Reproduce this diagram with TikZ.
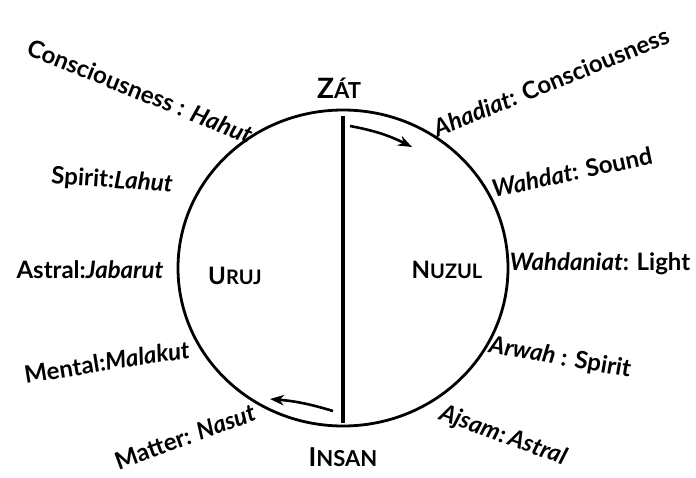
\documentclass[tikz,border=0pt]{standalone}
\usepackage{fontspec}
\setsansfont{Lato}
\usetikzlibrary{arrows.meta}

\begin{document}
\begin{tikzpicture}[x=0.5pt, y=-0.5pt, font=\sffamily\bfseries\fontsize{12}{14}\selectfont, line join=round]
    \useasboundingbox (0,0) rectangle (696,477);
    \coordinate (O) at (343, 268);    % centre of the circle
    \coordinate (T) at (343, 116);    % top of the axis, under Zat
    \coordinate (B) at (343, 423);    % bottom of the axis, above Insan
    \coordinate (P) at (350, 126);    % descent arrow, start
    \coordinate (Q) at (412, 147);    % descent arrow, tip
    \coordinate (R) at (333, 411);    % ascent arrow, start
    \coordinate (S) at (270, 399);    % ascent arrow, tip

    % Circle and the axis from Zat down to Insan
    \draw[line width=1.4pt] (O) ellipse [x radius=165, y radius=158];
    \draw[line width=2pt] (T) -- (B);

    % Arrows: down the right half, up the left half
    \draw[line width=1.3pt, -{Stealth[length=7pt]}] (P) to[bend left=8] (Q);
    \draw[line width=1.3pt, -{Stealth[length=7pt]}] (R) to[bend right=6] (S);

    % Poles and halves
    \node (zat)   at (339, 88)  {{\fontsize{14}{16}\selectfont Z}{\fontsize{11}{13}\selectfont ÁT}};
    \node (insan) at (343, 457) {{\fontsize{13}{15}\selectfont I}{\fontsize{11}{13}\selectfont NSAN}};
    \node (uruj)  at (235, 276) {U{\fontsize{10}{12}\selectfont RUJ}};
    \node (nuzul) at (447, 270) {N{\fontsize{10}{12}\selectfont UZUL}};

    % Left side: planes of ascent
    \node[rotate=-22] (hahut)   at (140, 91)  {Consciousness : \textit{Hahut}};
    \node[rotate=-4]  (lahut)   at (112, 181) {Spirit:\textit{Lahut}};
    \node             (jabarut) at (90, 270)  {Astral:\textit{Jabarut}};
    \node[rotate=9]   (malakut) at (107, 362) {Mental:\textit{Malakut}};
    \node[rotate=20]  (nasut)   at (185, 437) {Matter: \textit{Nasut}};

    % Right side: planes of descent
    \node[rotate=22]  (ahadiat)   at (551, 82)  {\textit{Ahadiat}: Consciousness};
    \node[rotate=12]  (wahdat)    at (572, 172) {\textit{Wahdat}: Sound};
    \node             (wahdaniat) at (600, 264) {\textit{Wahdaniat}: Light};
    \node[rotate=-10] (arwah)     at (560, 358) {\textit{Arwah} : Spirit};
    \node[rotate=-20] (ajsam)     at (503, 436) {\textit{Ajsam}:\,\textit{Astral}};
\end{tikzpicture}
\end{document}
